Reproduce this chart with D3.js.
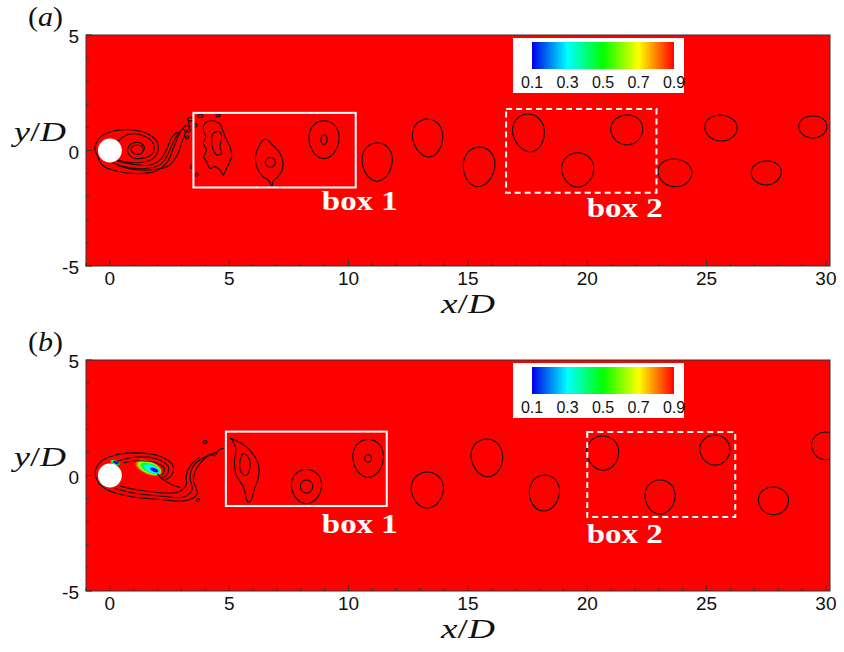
<!DOCTYPE html>
<html>
<head>
<meta charset="utf-8">
<script src="https://cdn.jsdelivr.net/npm/d3@7"></script>
<style>
  body { margin: 0; background: #fff; }
  svg { display: block; }
</style>
</head>
<body>
<svg id="fig" width="844" height="652"></svg>
<script>
// ---------- data ----------
const panelLabels = ["(a)", "(b)"];
const xTickValues = [0, 5, 10, 15, 20, 25, 30];
const yTickValues = [-5, 0, 5];
const colorbarTicks = [0.1, 0.3, 0.5, 0.7, 0.9];
const colorStops = ["#0000e8", "#00ffff", "#00ff00", "#ffff00", "#ff0000"];

// shed vortex cores: centre (x/D, y/D), semi-axes, tilt (deg), egg factor, optional inner ring
const vorticesA = [
  { x: 8.97, y: 0.47, rx: 0.63, ry: 0.82, tilt: 0, egg: 0.10, ix: 0.13, iy: 0.21 },
  { x: 11.2, y: -0.5, rx: 0.63, ry: 0.83, tilt: 0, egg: 0.12 },
  { x: 13.32, y: 0.54, rx: 0.63, ry: 0.82, tilt: 5, egg: 0.12 },
  { x: 15.46, y: -0.71, rx: 0.66, ry: 0.86, tilt: -5, egg: 0.10 },
  { x: 17.55, y: 0.76, rx: 0.66, ry: 0.82, tilt: 10, egg: 0.10 },
  { x: 19.6, y: -0.84, rx: 0.67, ry: 0.74, tilt: 0, egg: 0.08 },
  { x: 21.66, y: 0.89, rx: 0.67, ry: 0.65, tilt: 8, egg: 0.06 },
  { x: 23.67, y: -0.97, rx: 0.71, ry: 0.6, tilt: -8, egg: 0.06 },
  { x: 25.6, y: 0.97, rx: 0.68, ry: 0.56, tilt: -5, egg: 0.05 },
  { x: 27.5, y: -0.97, rx: 0.63, ry: 0.52, tilt: 5, egg: 0.05 },
  { x: 29.45, y: 1.02, rx: 0.59, ry: 0.48, tilt: 0, egg: 0.05 }
];
const vorticesB = [
  { x: 8.24, y: -0.48, rx: 0.63, ry: 0.74, tilt: 0, egg: 0.10, ix: 0.26, iy: 0.28 },
  { x: 10.82, y: 0.74, rx: 0.64, ry: 0.82, tilt: 0, egg: 0.10, ix: 0.14, iy: 0.16 },
  { x: 13.3, y: -0.63, rx: 0.67, ry: 0.78, tilt: 0, egg: 0.10 },
  { x: 15.8, y: 0.76, rx: 0.66, ry: 0.82, tilt: 6, egg: 0.10 },
  { x: 18.2, y: -0.76, rx: 0.63, ry: 0.78, tilt: -5, egg: 0.08 },
  { x: 20.65, y: 0.97, rx: 0.67, ry: 0.74, tilt: 5, egg: 0.08 },
  { x: 23.05, y: -0.93, rx: 0.63, ry: 0.74, tilt: 0, egg: 0.08 },
  { x: 25.35, y: 1.1, rx: 0.63, ry: 0.65, tilt: 8, egg: 0.06 },
  { x: 27.8, y: -1.1, rx: 0.63, ry: 0.6, tilt: -6, egg: 0.05 },
  { x: 30.0, y: 1.28, rx: 0.6, ry: 0.6, tilt: 0, egg: 0.05 }
];

// irregular iso-lines (x/D, y/D) of the near wake; closed ones are flagged
const wakeA = [
  { closed: false, pts: [[-0.45,-0.35],[-0.63,0.1],[-0.42,0.55],[0.1,0.83],[0.8,0.9],[1.5,0.76],[1.95,0.42],[2.02,0.0],[1.8,-0.35],[1.3,-0.52],[0.7,-0.5],[0.3,-0.4]] },
  { closed: false, pts: [[0.35,0.42],[0.8,0.7],[1.45,0.62],[1.82,0.3],[1.8,-0.12],[1.45,-0.32],[0.95,-0.3],[0.75,-0.05],[0.85,0.25],[1.2,0.35],[1.45,0.15],[1.35,-0.1]] },
  { closed: true, pts: [[0.9,0.12],[1.15,0.24],[1.38,0.12],[1.35,-0.1],[1.1,-0.16],[0.92,-0.05]] },
  { closed: false, pts: [[-0.5,-0.3],[-0.28,-0.66],[0.3,-0.9],[1.2,-1.0],[1.9,-0.9],[2.4,-0.5],[2.66,0.1],[2.86,0.6],[3.04,0.93],[3.16,0.82],[3.02,0.36],[2.82,-0.2],[2.46,-0.66],[1.9,-0.82],[1.0,-0.82],[0.3,-0.64]] },
  { closed: false, pts: [[0.1,-0.52],[0.7,-0.72],[1.5,-0.78],[2.12,-0.6],[2.46,-0.1],[2.72,0.5],[2.96,0.86]] },
  { closed: false, pts: [[0.3,-0.45],[1.0,-0.6],[1.7,-0.63],[2.16,-0.35],[2.4,0.1],[2.6,0.58],[2.84,0.8]] },
  { closed: false, pts: [[3.06,0.93],[3.2,1.1],[3.35,1.0],[3.3,1.25],[3.48,1.3]] },
  // broken-up structure entering box 1
  { closed: true, pts: [[3.98,1.18],[4.26,1.29],[4.61,1.15],[4.75,0.81],[4.89,0.45],[5.03,0.17],[5.1,-0.27],[4.96,-0.63],[4.82,-0.92],[4.75,-1.06],[4.61,-0.84],[4.4,-0.7],[4.19,-0.77],[4.05,-0.48],[3.94,-0.27],[4.05,0.02],[3.91,0.31],[4.02,0.6],[3.91,0.89]] },
  { closed: true, pts: [[4.33,0.74],[4.61,0.81],[4.68,0.53],[4.61,0.17],[4.68,-0.12],[4.47,-0.19],[4.33,0.02],[4.26,0.38]] },
  { closed: true, pts: [[3.25,1.35],[3.42,1.45],[3.5,1.33],[3.35,1.28]] },
  { closed: true, pts: [[3.68,1.5],[3.86,1.58],[3.9,1.47],[3.72,1.44]] },
  { closed: true, pts: [[3.5,1.08],[3.62,1.16],[3.66,1.05],[3.52,1.02]] },
  { closed: true, pts: [[3.22,0.86],[3.34,0.94],[3.36,0.84],[3.24,0.8]] },
  { closed: true, pts: [[3.16,0.56],[3.26,0.64],[3.3,0.56],[3.2,0.5]] },
  { closed: true, pts: [[3.38,-0.68],[3.46,-0.62],[3.5,-0.72],[3.4,-0.76]] },
  { closed: true, pts: [[3.58,-1.02],[3.66,-0.98],[3.7,-1.08],[3.6,-1.1]] },
  { closed: true, pts: [[4.45,1.52],[4.6,1.58],[4.62,1.5],[4.48,1.46]] },
  // pointed vortex inside box 1
  { closed: true, pts: [[6.5,0.5],[6.85,0.2],[7.12,-0.11],[7.25,-0.71],[7.0,-1.19],[6.85,-1.3],[6.79,-1.54],[6.66,-1.3],[6.4,-1.12],[6.15,-0.7],[6.1,-0.3],[6.2,0.1]] },
  { closed: true, pts: [[6.73,-0.3],[6.9,-0.4],[6.93,-0.55],[6.82,-0.7],[6.65,-0.72],[6.53,-0.58],[6.55,-0.4]] }
];
const wakeB = [
  { closed: false, pts: [[-0.45,-0.35],[-0.62,0.1],[-0.38,0.6],[0.2,0.88],[1.1,0.98],[2.1,0.83],[2.65,0.42],[2.58,0.0],[2.25,-0.18],[2.0,0.08]] },
  { closed: false, pts: [[0.3,0.62],[1.1,0.8],[2.0,0.7],[2.46,0.36],[2.36,0.0],[2.12,-0.1]] },
  { closed: false, pts: [[0.55,0.55],[1.2,0.64],[1.9,0.56],[2.28,0.3],[2.2,0.02]] },
  { closed: false, pts: [[-0.45,-0.35],[-0.1,-0.63],[0.8,-0.9],[2.0,-1.03],[3.2,-1.08],[3.66,-0.8],[3.5,-0.2],[3.66,0.36],[4.06,0.8],[4.5,1.02]] },
  { closed: false, pts: [[0.2,-0.56],[1.0,-0.76],[2.2,-0.9],[3.1,-0.93],[3.45,-0.6],[3.36,-0.1],[3.5,0.42],[3.9,0.76],[4.3,0.94]] },
  { closed: false, pts: [[0.42,-0.46],[1.2,-0.63],[2.3,-0.76],[2.9,-0.7],[3.2,-0.4],[3.2,0.0],[3.4,0.46],[3.78,0.8]] },
  { closed: false, pts: [[2.25,-0.18],[2.6,-0.4],[2.95,-0.52]] },
  { closed: false, pts: [[4.06,0.8],[4.2,0.92],[4.4,0.86],[4.55,1.1],[4.78,1.18]] },
  { closed: true, pts: [[3.9,1.46],[4.02,1.52],[4.06,1.42],[3.94,1.4]] },
  { closed: true, pts: [[3.64,-1.04],[3.72,-1.0],[3.76,-1.1],[3.66,-1.12]] },
  // crescent-shaped vortex entering box 1
  { closed: true, pts: [[5.03,1.62],[5.5,1.4],[5.86,1.1],[6.22,0.5],[6.22,-0.1],[6.05,-0.6],[5.9,-1.1],[5.78,-1.15],[5.6,-0.5],[5.3,0.0],[5.22,0.6],[5.28,1.15],[5.15,1.5]] },
  { closed: true, pts: [[5.6,0.95],[5.82,0.75],[5.86,0.3],[5.7,0.0],[5.5,0.15],[5.45,0.6]] }
];

// scalar patches in the recirculation zone of (b): centre, semi-axes, level
const patchesB = [
  { x: 1.62, y: 0.34, rx: 0.58, ry: 0.29, v: 0.82 },
  { x: 1.66, y: 0.33, rx: 0.52, ry: 0.25, v: 0.62 },
  { x: 1.7, y: 0.31, rx: 0.45, ry: 0.2, v: 0.45 },
  { x: 1.76, y: 0.28, rx: 0.34, ry: 0.15, v: 0.3 },
  { x: 1.86, y: 0.24, rx: 0.18, ry: 0.08, v: 0.12 },
  { x: 0.22, y: 0.56, rx: 0.2, ry: 0.09, v: 0.45 },
  { x: 0.25, y: 0.56, rx: 0.13, ry: 0.06, v: 0.12 }
];

const boxesA = [
  { x0: 3.5, x1: 10.3, y0: -1.6, y1: 1.63, dashed: false, label: "box 1", lx: 8.88, ly: -2.58 },
  { x0: 16.6, x1: 22.9, y0: -1.83, y1: 1.8, dashed: true, label: "box 2", lx: 19.98, ly: -2.88 }
];
const boxesB = [
  { x0: 4.86, x1: 11.6, y0: -1.32, y1: 1.9, dashed: false, label: "box 1", lx: 8.88, ly: -2.49 },
  { x0: 20.0, x1: 26.2, y0: -1.8, y1: 1.88, dashed: true, label: "box 2", lx: 19.98, ly: -2.92 }
];

// ---------- drawing ----------
const svg = d3.select("#fig");
const defs = svg.append("defs");
const W = { left: 86, right: 830, h: 231 };
const x = d3.scaleLinear().domain([-1, 30.17]).range([W.left, W.right]);
const color = d3.scaleLinear().domain(colorbarTicks).range(colorStops);

// colour bar gradient
const grad = defs.append("linearGradient").attr("id", "jet");
d3.range(0, 1.0001, 0.05).forEach(t => {
  grad.append("stop").attr("offset", t).attr("stop-color", color(0.1 + 0.8 * t));
});

const panels = [
  { label: panelLabels[0], top: 35, vortices: vorticesA, wake: wakeA, patches: [], boxes: boxesA },
  { label: panelLabels[1], top: 360, vortices: vorticesB, wake: wakeB, patches: patchesB, boxes: boxesB }
];

const serif = "'Liberation Serif','Times New Roman',serif";
const sans = "'Liberation Sans',Arial,Helvetica,sans-serif";
const lineW = 1.1;

function ringPoints(cx, cy, rx, ry, tilt, egg) {
  const a = tilt * Math.PI / 180;
  return d3.range(24).map(k => {
    const t = 2 * Math.PI * k / 24;
    const e = 1 + egg * Math.sin(t);
    const dx = rx * Math.cos(t) * e, dy = ry * Math.sin(t);
    return [cx + dx * Math.cos(a) - dy * Math.sin(a), cy + dx * Math.sin(a) + dy * Math.cos(a)];
  });
}

panels.forEach((p, i) => {
  const y = d3.scaleLinear().domain([-5, 5]).range([p.top + W.h, p.top]);
  const g = svg.append("g");
  const clipId = "plotclip" + i;
  defs.append("clipPath").attr("id", clipId)
    .append("rect").attr("x", W.left).attr("y", p.top).attr("width", W.right - W.left).attr("height", W.h);

  // field background
  g.append("rect").attr("x", W.left).attr("y", p.top)
    .attr("width", W.right - W.left).attr("height", W.h).attr("fill", "#ff0000");

  const plot = g.append("g").attr("clip-path", `url(#${clipId})`);
  const openLine = d3.line().x(d => x(d[0])).y(d => y(d[1])).curve(d3.curveCatmullRom.alpha(0.5));
  const closedLine = d3.line().x(d => x(d[0])).y(d => y(d[1])).curve(d3.curveCatmullRomClosed.alpha(0.5));

  // scalar patches
  p.patches.forEach(c => {
    plot.append("ellipse")
      .attr("cx", x(c.x)).attr("cy", y(c.y))
      .attr("rx", x(c.x + c.rx) - x(c.x)).attr("ry", y(c.y) - y(c.y + c.ry))
      .attr("transform", `rotate(22 ${x(c.x)} ${y(c.y)})`)
      .attr("fill", color(c.v));
  });

  // near-wake iso-lines
  plot.selectAll("path.wake").data(p.wake).join("path")
    .attr("class", "wake")
    .attr("d", d => (d.closed ? closedLine : openLine)(d.pts))
    .attr("fill", "none").attr("stroke", "#111").attr("stroke-width", lineW);

  // shed vortices
  p.vortices.forEach(v => {
    plot.append("path")
      .attr("d", closedLine(ringPoints(v.x, v.y, v.rx, v.ry, v.tilt, v.egg)))
      .attr("fill", "none").attr("stroke", "#111").attr("stroke-width", lineW);
    if (v.ix) {
      plot.append("path")
        .attr("d", closedLine(ringPoints(v.x, v.y, v.ix, v.iy, 0, 0.05)))
        .attr("fill", "none").attr("stroke", "#111").attr("stroke-width", lineW);
    }
  });

  // cylinder
  plot.append("circle").attr("cx", x(0)).attr("cy", y(0))
    .attr("r", x(0.5) - x(0)).attr("fill", "#fff");

  // boxes
  p.boxes.forEach(b => {
    g.append("rect")
      .attr("x", x(b.x0)).attr("y", y(b.y1))
      .attr("width", x(b.x1) - x(b.x0)).attr("height", y(b.y0) - y(b.y1))
      .attr("fill", "none").attr("stroke", "#fff").attr("stroke-width", 2)
      .attr("stroke-dasharray", b.dashed ? "6,4" : null);
    g.append("text").attr("x", x(b.lx)).attr("y", y(b.ly))
      .attr("font-family", serif).attr("font-weight", "bold").attr("font-size", 27)
      .attr("fill", "#fff").attr("textLength", 76).attr("lengthAdjust", "spacingAndGlyphs")
      .text(b.label);
  });

  // frame
  g.append("rect").attr("x", W.left).attr("y", p.top)
    .attr("width", W.right - W.left).attr("height", W.h)
    .attr("fill", "none").attr("stroke", "#333").attr("stroke-width", 1);

  // ticks (inward), minor every unit
  const bottom = p.top + W.h;
  d3.range(-1, 31).forEach(v => {
    const major = xTickValues.includes(v);
    g.append("line").attr("x1", x(v)).attr("x2", x(v))
      .attr("y1", bottom).attr("y2", bottom - (major ? 6 : 3))
      .attr("stroke", "#333").attr("stroke-width", 1);
  });
  d3.range(-5, 6).forEach(v => {
    const major = yTickValues.includes(v);
    g.append("line").attr("x1", W.left).attr("x2", W.left + (major ? 6 : 3))
      .attr("y1", y(v)).attr("y2", y(v))
      .attr("stroke", "#333").attr("stroke-width", 1);
  });

  // tick labels
  g.selectAll("text.xt").data(xTickValues).join("text")
    .attr("class", "xt").attr("x", d => x(d)).attr("y", bottom + 19)
    .attr("text-anchor", "middle").attr("font-family", sans).attr("font-size", 19)
    .attr("fill", "#111").text(d => d);
  g.selectAll("text.yt").data(yTickValues).join("text")
    .attr("class", "yt").attr("x", W.left - 7).attr("y", d => y(d) + 8)
    .attr("text-anchor", "end").attr("font-family", sans).attr("font-size", 19)
    .attr("fill", "#111").text(d => d);

  // axis titles
  const xt = g.append("text").attr("x", 441).attr("y", bottom + 47)
    .attr("font-family", serif).attr("font-style", "italic")
    .attr("font-size", 28).attr("fill", "#111")
    .attr("textLength", 54).attr("lengthAdjust", "spacingAndGlyphs");
  xt.append("tspan").text("x");
  xt.append("tspan").attr("font-style", "normal").text("/");
  xt.append("tspan").text("D");
  const yt = g.append("text").attr("x", 14).attr("y", p.top + 106)
    .attr("font-family", serif).attr("font-style", "italic")
    .attr("font-size", 28).attr("fill", "#111")
    .attr("textLength", 52).attr("lengthAdjust", "spacingAndGlyphs");
  yt.append("tspan").text("y");
  yt.append("tspan").attr("font-style", "normal").text("/");
  yt.append("tspan").text("D");

  // panel tag
  const tag = g.append("text").attr("x", 28).attr("y", p.top - 9)
    .attr("font-family", serif).attr("font-size", 28).attr("fill", "#111")
    .attr("textLength", 35).attr("lengthAdjust", "spacingAndGlyphs");
  tag.append("tspan").text("(");
  tag.append("tspan").attr("font-style", "italic").text(p.label.slice(1, 2));
  tag.append("tspan").text(")");

  // colour legend
  const lg = g.append("g");
  lg.append("rect").attr("x", 513).attr("y", p.top + 3).attr("width", 171).attr("height", 55).attr("fill", "#fff");
  const cb = d3.scaleLinear().domain([0.1, 0.9]).range([532, 674]);
  lg.append("rect").attr("x", cb(0.1)).attr("y", p.top + 7)
    .attr("width", cb(0.9) - cb(0.1)).attr("height", 27).attr("fill", "url(#jet)");
  lg.selectAll("text").data(colorbarTicks).join("text")
    .attr("x", d => cb(d)).attr("y", p.top + 53)
    .attr("text-anchor", "middle").attr("font-family", sans).attr("font-size", 16)
    .attr("fill", "#111").text(d => d.toFixed(1));
});
</script>
</body>
</html>
